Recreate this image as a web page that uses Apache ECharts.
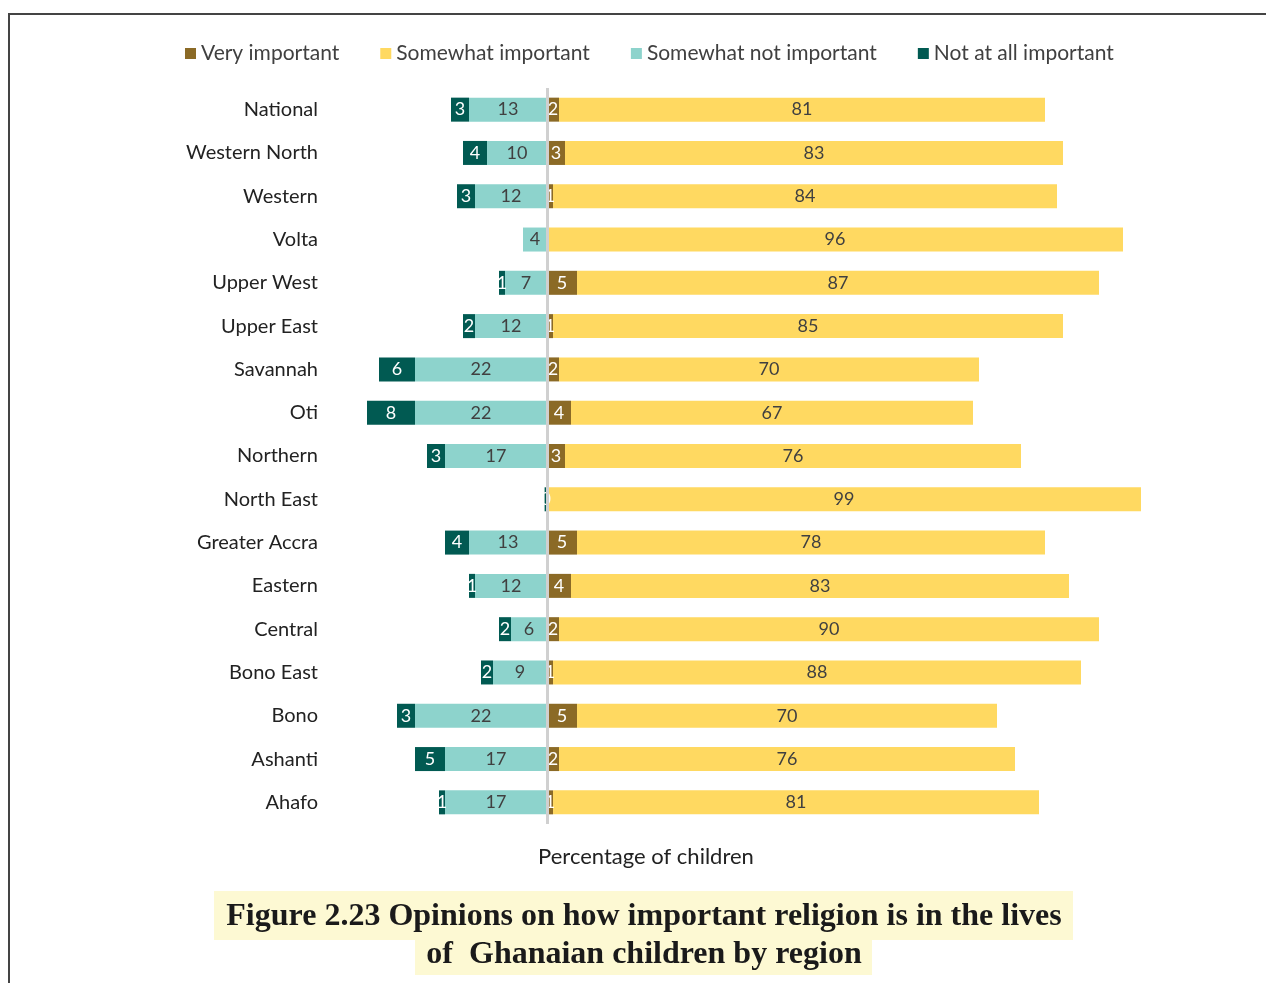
<!DOCTYPE html>
<html>
<head>
<meta charset="utf-8">
<script src="https://cdn.jsdelivr.net/npm/echarts@6/dist/echarts.min.js"></script>
<style>
html,body{margin:0;padding:0;background:#fff;}
#chart{width:1266px;height:983px;}
</style>
</head>
<body>
<div id="chart"></div>
<script>
const categories = ["National","Western North","Western","Volta","Upper West","Upper East","Savannah","Oti","Northern","North East","Greater Accra","Eastern","Central","Bono East","Bono","Ashanti","Ahafo"];
const notAtAll = [3,4,3,0,1,2,6,8,3,0.4,4,1,2,2,3,5,1];
const somewhatNot = [13,10,12,4,7,12,22,22,17,0,13,12,6,9,22,17,17];
const veryImportant = [2,3,1,0,5,1,2,4,3,0,5,4,2,1,5,2,1];
const somewhatImportant = [81,83,84,96,87,85,70,67,76,99,78,83,90,88,70,76,81];
const legendNames = ["Very important","Somewhat important","Somewhat not important","Not at all important"];

const FONT = 'Lato';
const colors = {vi:'#8B6A26', si:'#FFD961', sni:'#8DD3CC', na:'#015A52'};

function lbl(color){
  return {
    show:true, position:'inside', color:color, fontSize:18, fontFamily:FONT,
    formatter:function(p){
      const v = Math.abs(p.value);
      if (v === 0) return '';
      return String(Math.round(v));
    }
  };
}

const chart = echarts.init(document.getElementById('chart'));
chart.setOption({
  animation:false,
  backgroundColor:'#fff',
  legend:{
    data:legendNames, left:180, top:38, icon:'rect', itemWidth:11, itemHeight:11,
    itemGap:41, textStyle:{fontSize:21, color:'#404040', fontFamily:FONT}
  },
  grid:{left:319, right:119, top:88, bottom:159, containLabel:false},
  xAxis:{type:'value', min:-38, max:100, show:false},
  yAxis:{type:'category', data:categories, inverse:true,
    axisLine:{show:false}, axisTick:{show:false}, splitLine:{show:false},
    axisLabel:{fontSize:20, color:'#222', fontFamily:FONT, margin:1}},
  series:[
    {name:'Somewhat not important', type:'bar', stack:'t', barWidth:24,
     itemStyle:{color:colors.sni}, label:lbl('#404040'),
     data:somewhatNot.map(v=>-v)},
    {name:'Not at all important', type:'bar', stack:'t', barWidth:24,
     itemStyle:{color:colors.na}, label:lbl('#ffffff'),
     data:notAtAll.map(v=>-v)},
    {name:'Very important', type:'bar', stack:'t', barWidth:24,
     itemStyle:{color:colors.vi}, label:lbl('#ffffff'),
     data:veryImportant.slice(),
     markLine:{silent:true, symbol:'none', label:{show:false},
       lineStyle:{color:'#d0d0d0', width:3, type:'solid'}, data:[{xAxis:0}]}},
    {name:'Somewhat important', type:'bar', stack:'t', barWidth:24,
     itemStyle:{color:colors.si}, label:lbl('#404040'),
     data:somewhatImportant.slice()}
  ],
  graphic:[
    {type:'line', shape:{x1:8, y1:14, x2:1266, y2:14}, style:{stroke:'#444', lineWidth:2}},
    {type:'line', shape:{x1:9, y1:13, x2:9, y2:983}, style:{stroke:'#444', lineWidth:2}},
    {type:'text', x:646, y:857, style:{text:'Percentage of children', fill:'#222', fontSize:22, fontFamily:FONT, textAlign:'center', textVerticalAlign:'middle'}},
    {type:'rect', shape:{x:214, y:891, width:859, height:49}, style:{fill:'#FDF9D3'}},
    {type:'rect', shape:{x:415, y:940, width:457, height:35}, style:{fill:'#FDF9D3'}},
    {type:'text', x:644, y:917, style:{text:'Figure 2.23 Opinions on how important religion is in the lives', fill:'#1a1a1a', fontSize:32, fontWeight:'bold', fontFamily:'Liberation Serif', textAlign:'center', textVerticalAlign:'middle'}},
    {type:'text', x:644, y:955, style:{text:'of  Ghanaian children by region', fill:'#1a1a1a', fontSize:32, fontWeight:'bold', fontFamily:'Liberation Serif', textAlign:'center', textVerticalAlign:'middle'}}
  ]
});
</script>
</body>
</html>
